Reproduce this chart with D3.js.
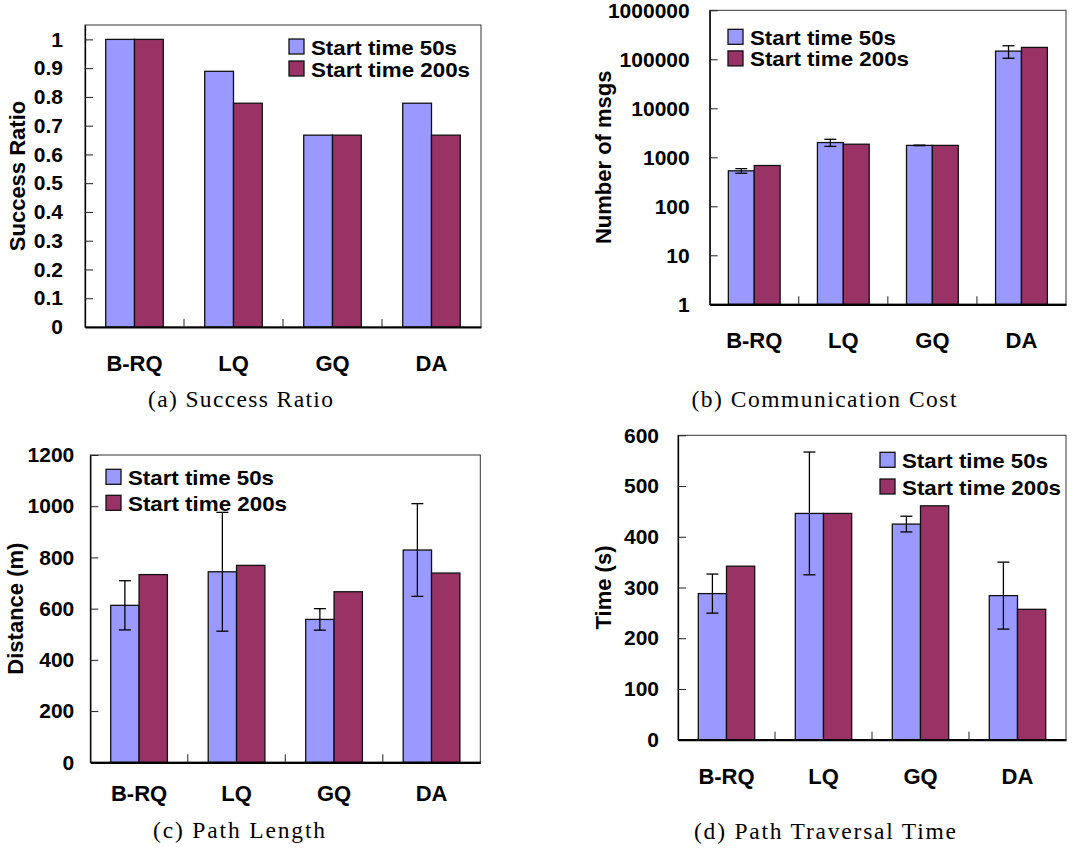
<!DOCTYPE html>
<html>
<head>
<meta charset="utf-8">
<script src="https://cdn.jsdelivr.net/npm/d3@7/dist/d3.min.js"></script>
<style>
body { margin: 0; background: #fff; }
</style>
</head>
<body>
<div id="vis"></div>
<script>
// categories and series
var categories = ["B-RQ", "LQ", "GQ", "DA"];
var seriesNames = ["Start time 50s", "Start time 200s"];
var seriesColors = ["#9999ff", "#993366"];

// (a) success ratio
var successStart50 = [1, 0.889, 0.667, 0.778];
var successStart200 = [1, 0.778, 0.667, 0.667];
var successTicks = [0, 0.1, 0.2, 0.3, 0.4, 0.5, 0.6, 0.7, 0.8, 0.9, 1];

// (b) communication cost (log axis)
var msgsStart50 = [530, 2000, 1750, 147000];
var msgsErr50 = [57, 330, 20, 42000];
var msgsStart200 = [680, 1850, 1750, 175000];
var msgsTicks = [1, 10, 100, 1000, 10000, 100000, 1000000];

// (c) path length
var distStart50 = [613, 744, 558, 829];
var distErr50 = [96, 232, 42, 181];
var distStart200 = [733, 769, 666, 739];
var distTicks = [0, 200, 400, 600, 800, 1000, 1200];

// (d) path traversal time
var timeStart50 = [288, 446, 425, 284];
var timeErr50 = [38.5, 121, 15.5, 66];
var timeStart200 = [342, 446, 461, 257];
var timeTicks = [0, 100, 200, 300, 400, 500, 600];

var width = 1072;
var height = 850;
var sansFont = "'Liberation Sans', Arial, sans-serif";
var serifFont = "'Liberation Serif', 'Times New Roman', serif";

var svgElement = d3.select('#vis').append('svg')
    .attr('width', width)
    .attr('height', height);

var panels = [
    {
        s50: successStart50, s200: successStart200, err: null,
        ticks: successTicks, domain: [0, 1.05], log: false,
        left: 85, right: 481, top: 25, bottom: 327,
        tickPad: 22, xPad: 28, yLabel: "Success Ratio", yLabelX: 17,
        legendX: 289, legendY: 39, legendStep: 22,
        caption: "(a) Success Ratio", capX: 240.5, capY: 407, capW: 185
    },
    {
        s50: msgsStart50, s200: msgsStart200, err: msgsErr50,
        ticks: msgsTicks, domain: [1, 1000000], log: true,
        left: 709.7, right: 1066, top: 10.3, bottom: 304.3,
        tickPad: 20, xPad: 28, yLabel: "Number of msgs", yLabelX: 603,
        legendX: 728, legendY: 29.3, legendStep: 21.6,
        caption: "(b) Communication Cost", capX: 824, capY: 407, capW: 265
    },
    {
        s50: distStart50, s200: distStart200, err: distErr50,
        ticks: distTicks, domain: [0, 1200], log: false,
        left: 90.3, right: 480.3, top: 455, bottom: 762.3,
        tickPad: 16, xPad: 23, yLabel: "Distance (m)", yLabelX: 15,
        legendX: 106, legendY: 469.3, legendStep: 26,
        caption: "(c) Path Length", capX: 239, capY: 838, capW: 172
    },
    {
        s50: timeStart50, s200: timeStart200, err: timeErr50,
        ticks: timeTicks, domain: [0, 600], log: false,
        left: 678, right: 1066, top: 435.3, bottom: 739.7,
        tickPad: 19, xPad: 29, yLabel: "Time (s)", yLabelX: 603,
        legendX: 880, legendY: 452.3, legendStep: 26.7,
        caption: "(d) Path Traversal Time", capX: 825, capY: 839, capW: 262
    }
];

function drawPanel(p) {
    var g = svgElement.append('g');

    var x = d3.scaleBand()
        .domain(categories)
        .range([p.left, p.right])
        .padding(0);
    var xInner = d3.scaleBand()
        .domain(seriesNames)
        .range([0, x.bandwidth()])
        .paddingInner(0)
        .paddingOuter(0.72);
    var y = (p.log ? d3.scaleLog() : d3.scaleLinear())
        .domain(p.domain)
        .range([p.bottom, p.top]);

    // plot frame
    g.append('rect')
        .attr('x', p.left)
        .attr('y', p.top)
        .attr('width', p.right - p.left)
        .attr('height', p.bottom - p.top)
        .attr('fill', 'none')
        .attr('stroke', '#333')
        .attr('stroke-width', 1);

    // bars
    var rows = categories.map(function (c, i) {
        return { cat: c, i: i, vals: [p.s50[i], p.s200[i]] };
    });
    var groups = g.selectAll('g.grp').data(rows).enter().append('g')
        .attr('class', 'grp')
        .attr('transform', function (d) { return 'translate(' + x(d.cat) + ',0)'; });
    groups.selectAll('rect')
        .data(function (d) {
            return d.vals.map(function (v, k) { return { name: seriesNames[k], v: v, k: k }; });
        })
        .enter().append('rect')
        .attr('x', function (d) { return xInner(d.name); })
        .attr('width', xInner.bandwidth())
        .attr('y', function (d) { return y(d.v); })
        .attr('height', function (d) { return p.bottom - y(d.v); })
        .attr('fill', function (d) { return seriesColors[d.k]; })
        .attr('stroke', '#111')
        .attr('stroke-width', 1.3);

    // error bars on the 50s series
    if (p.err) {
        var cap = 6;
        rows.forEach(function (d) {
            var cx = x(d.cat) + xInner(seriesNames[0]) + xInner.bandwidth() / 2;
            var v = p.s50[d.i];
            var e = p.err[d.i];
            var y1 = y(v + e);
            var y2 = y(v - e);
            g.append('line').attr('x1', cx).attr('x2', cx).attr('y1', y1).attr('y2', y2)
                .attr('stroke', '#000').attr('stroke-width', 1.3);
            g.append('line').attr('x1', cx - cap).attr('x2', cx + cap).attr('y1', y1).attr('y2', y1)
                .attr('stroke', '#000').attr('stroke-width', 1.3);
            g.append('line').attr('x1', cx - cap).attr('x2', cx + cap).attr('y1', y2).attr('y2', y2)
                .attr('stroke', '#000').attr('stroke-width', 1.3);
        });
    }

    // y axis
    var yAxis = d3.axisLeft(y)
        .tickValues(p.ticks)
        .tickFormat(function (d) { return String(d); })
        .tickSizeInner(-8)
        .tickSizeOuter(0)
        .tickPadding(p.tickPad);
    var ya = g.append('g')
        .attr('transform', 'translate(' + p.left + ',0)')
        .call(yAxis);
    ya.select('.domain').attr('stroke', '#000').attr('stroke-width', 1.3);
    ya.selectAll('.tick line').attr('stroke', '#222').attr('stroke-width', 1);
    ya.selectAll('.tick text')
        .attr('font-family', sansFont)
        .attr('font-size', 21)
        .attr('font-weight', 'bold')
        .attr('fill', '#000');

    // x axis: labels at band centres, ticks at band boundaries
    var xAxis = d3.axisBottom(x).tickSize(0).tickPadding(p.xPad);
    var xa = g.append('g')
        .attr('transform', 'translate(0,' + p.bottom + ')')
        .call(xAxis);
    xa.select('.domain').attr('stroke', '#000').attr('stroke-width', 2.2);
    xa.selectAll('.tick text')
        .attr('font-family', sansFont)
        .attr('font-size', 22)
        .attr('font-weight', 'bold')
        .attr('fill', '#000');
    g.selectAll('line.sep')
        .data(categories.slice(1))
        .enter().append('line')
        .attr('class', 'sep')
        .attr('x1', function (d) { return x(d); })
        .attr('x2', function (d) { return x(d); })
        .attr('y1', p.bottom)
        .attr('y2', p.bottom - 8)
        .attr('stroke', '#222')
        .attr('stroke-width', 1);

    // y label
    g.append('text')
        .attr('transform', 'translate(' + p.yLabelX + ',' + ((p.top + p.bottom) / 2) + ') rotate(-90)')
        .attr('text-anchor', 'middle')
        .attr('dominant-baseline', 'central')
        .attr('font-family', sansFont)
        .attr('font-size', 22)
        .attr('font-weight', 'bold')
        .text(p.yLabel);

    // legend
    var leg = g.selectAll('g.leg').data(seriesNames).enter().append('g')
        .attr('class', 'leg')
        .attr('transform', function (d, i) {
            return 'translate(' + p.legendX + ',' + (p.legendY + i * p.legendStep) + ')';
        });
    leg.append('rect')
        .attr('width', 15)
        .attr('height', 15)
        .attr('fill', function (d, i) { return seriesColors[i]; })
        .attr('stroke', '#111')
        .attr('stroke-width', 1.3);
    leg.append('text')
        .attr('x', 22)
        .attr('y', 15.5)
        .attr('font-family', sansFont)
        .attr('font-size', 21)
        .attr('font-weight', 'bold')
        .attr('textLength', function (d) { return d.length > 14 ? 159 : 146; })
        .attr('lengthAdjust', 'spacingAndGlyphs')
        .text(function (d) { return d; });

    // caption
    svgElement.append('text')
        .attr('x', p.capX)
        .attr('y', p.capY)
        .attr('text-anchor', 'middle')
        .attr('font-family', serifFont)
        .attr('font-size', 23.5)
        .attr('textLength', p.capW)
        .attr('lengthAdjust', 'spacing')
        .text(p.caption);
}

function main() {
    panels.forEach(drawPanel);
}

main();
</script>
</body>
</html>
